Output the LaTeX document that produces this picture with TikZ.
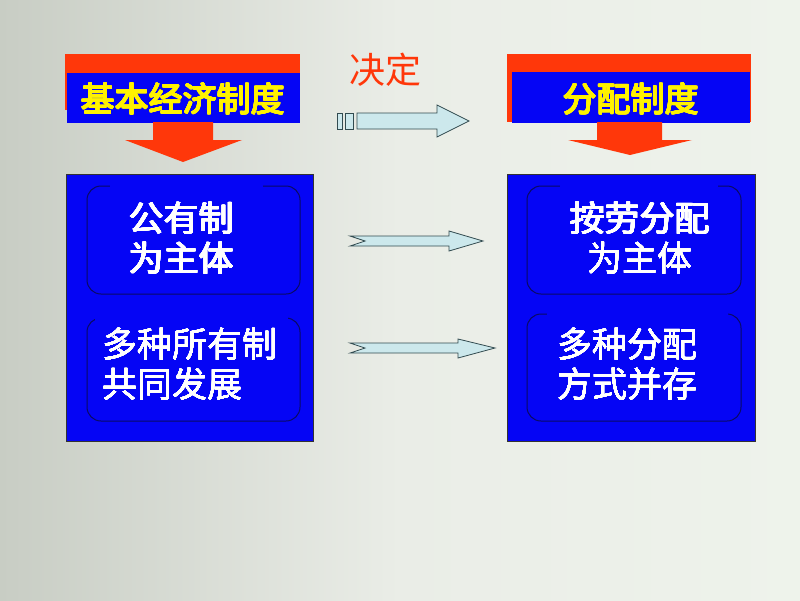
\documentclass[tikz,border=0pt]{standalone}
\usepackage{fontspec}
\usepackage[copies]{contour}
\contourlength{0.4pt}
\contournumber{16}
\newfontfamily\cjk{Noto Sans CJK SC}
\newcommand{\wline}[1]{\contourlength{0.12pt}\contour{white}{#1}}
\definecolor{mainblue}{RGB}{5,5,245}
\definecolor{hdrred}{RGB}{255,55,10}
\definecolor{lightarrow}{RGB}{204,232,236}
\definecolor{arrowline}{RGB}{50,75,80}
\definecolor{navyline}{RGB}{10,10,100}
\definecolor{bgleft}{RGB}{200,205,196}
\definecolor{bgmid}{RGB}{234,237,231}
\definecolor{bgright}{RGB}{238,243,235}
\tikzset{
  bigbox/.style={fill=mainblue,draw=black!80,line width=0.8pt},
  innerbox/.style={draw=navyline,line width=1pt,rounded corners=14pt},
  hdrtext/.style={font=\cjk\fontsize{34}{40}\selectfont,text=yellow,inner sep=0pt},
  bodytext/.style={font=\cjk\fontsize{35}{40}\selectfont,text=white,inner sep=0pt},
  blockarrow/.style={fill=lightarrow,draw=arrowline,line width=0.8pt,line join=miter},
  downarrow/.style={fill=hdrred},
}
\begin{document}
\begin{tikzpicture}[x=1pt,y=-1pt]
\useasboundingbox (0,0) rectangle (800,600);
\shade[left color=bgleft,right color=bgright,middle color=bgmid] (0,0) rectangle (800,600);

% left header
\fill[hdrred] (65,54) rectangle (300,110);
\fill[mainblue] (67,73) rectangle (300,123);
\node[hdrtext] (lhdr) at (183,99) {\contour{yellow}{基本经济制度}};
\fill[downarrow] (153,122) -- (213,122) -- (213,140) -- (242,140) -- (183,162) -- (125,140) -- (153,140) -- cycle;

% right header
\fill[hdrred] (507,54) rectangle (751,122);
\fill[mainblue] (512,72) rectangle (750,123);
\node[hdrtext] (rhdr) at (631,99) {\contour{yellow}{分配制度}};
\fill[downarrow] (597,122) -- (662,122) -- (662,140) -- (692,140) -- (630,155) -- (568,140) -- (597,140) -- cycle;

% decide label and striped arrow
\node[font=\cjk\fontsize{36}{40}\selectfont,text=hdrred,inner sep=0pt] (jd) at (385,70) {决定};
\draw[blockarrow] (337,113) rectangle (342,129);
\draw[blockarrow] (345,113) rectangle (353,129);
\draw[blockarrow] (357,113) -- (437,113) -- (437,105) -- (469,121) -- (437,137) -- (437,129) -- (357,129) -- cycle;

% main boxes
\draw[bigbox] (66,174) rectangle (313,441);
\draw[bigbox] (507,174) rectangle (755,441);

% inner boxes left
\draw[innerbox] (87,186) rectangle (300,294);
\fill[mainblue] (110,183) rectangle (263,189);
\draw[innerbox] (87,318) rectangle (300,421);
\fill[mainblue] (95,315) rectangle (288,321);
% inner boxes right
\draw[innerbox] (527,186) rectangle (741,294);
\fill[mainblue] (560,183) rectangle (718,189);
\draw[innerbox] (527,314) rectangle (741,421);
\fill[mainblue] (547,311) rectangle (728,317);

% texts
\node[bodytext,align=left] (t1) at (181.5,238) {\wline{公有制}\\\wline{为主体}};
\node[bodytext,align=left] (t2) at (190,364) {\wline{多种所有制}\\\wline{共同发展}};
\node[bodytext,align=center] (t3) at (640,238) {\wline{按劳分配}\\\wline{为主体}};
\node[bodytext,align=left] (t4) at (627.5,364) {\wline{多种分配}\\\wline{方式并存}};

% middle arrows
\draw[blockarrow] (350,236) -- (449,236) -- (449,231) -- (483,241) -- (449,251) -- (449,246) -- (350,246) -- (365,241) -- cycle;
\draw[blockarrow] (350,343) -- (458,343) -- (458,339) -- (495,348) -- (458,358) -- (458,353) -- (350,353) -- (365,348) -- cycle;
\end{tikzpicture}
\end{document}
